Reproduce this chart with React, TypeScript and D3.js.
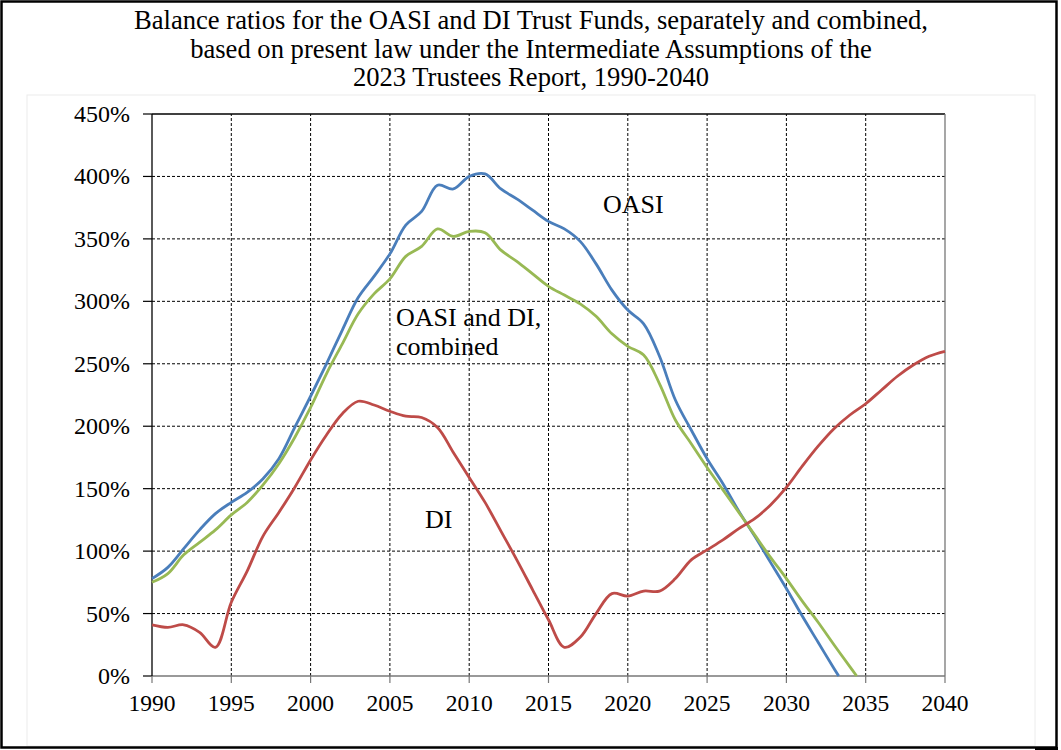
import React from 'react';
import * as d3 from 'd3';

const titleLines = [
  'Balance ratios for the OASI and DI Trust Funds, separately and combined,',
  'based on present law under the Intermediate Assumptions of the',
  '2023 Trustees Report, 1990-2040',
];

const yearTicks = [1990, 1995, 2000, 2005, 2010, 2015, 2020, 2025, 2030, 2035, 2040];
const pctTicks = [0, 50, 100, 150, 200, 250, 300, 350, 400, 450];

// OASI trust fund ratio (%), depleted during 2033
const oasiYears = [1990, 1991, 1992, 1993, 1994, 1995, 1996, 1997, 1998, 1999, 2000, 2001, 2002, 2003, 2004, 2005, 2006, 2007, 2008, 2009, 2010, 2011, 2012, 2013, 2014, 2015, 2016, 2017, 2018, 2019, 2020, 2021, 2022, 2023, 2024, 2025, 2026, 2027, 2028, 2029, 2030, 2031, 2032, 2033, 2033.3];
const oasiValues = [78, 87, 102, 117, 130, 139, 147, 158, 174, 199, 224, 250, 277, 303, 320, 338, 361, 372, 393, 390, 400, 402, 390, 382, 373, 364, 358, 348, 330, 309, 293, 282, 256, 221, 197, 174, 154, 132, 112, 91, 70, 48, 27, 6, 0];

// OASI and DI combined (%), depleted during 2034
const combYears = [1990, 1991, 1992, 1993, 1994, 1995, 1996, 1997, 1998, 1999, 2000, 2001, 2002, 2003, 2004, 2005, 2006, 2007, 2008, 2009, 2010, 2011, 2012, 2013, 2014, 2015, 2016, 2017, 2018, 2019, 2020, 2021, 2022, 2023, 2024, 2025, 2026, 2027, 2028, 2029, 2030, 2031, 2032, 2033, 2034, 2034.43];
const combValues = [75, 82, 97, 107, 117, 129, 139, 153, 170, 191, 215, 242, 266, 290, 306, 318, 336, 344, 358, 352, 356, 355, 341, 332, 322, 312, 305, 298, 288, 274, 264, 257, 234, 205, 186, 167, 149, 131, 113, 95, 78, 60, 43, 25, 7.5, 0];

// DI trust fund ratio (%)
const diYears = [1990, 1991, 1992, 1993, 1994, 1995, 1996, 1997, 1998, 1999, 2000, 2001, 2002, 2003, 2004, 2005, 2006, 2007, 2008, 2009, 2010, 2011, 2012, 2013, 2014, 2015, 2016, 2017, 2018, 2019, 2020, 2021, 2022, 2023, 2024, 2025, 2026, 2027, 2028, 2029, 2030, 2031, 2032, 2033, 2034, 2035, 2036, 2037, 2038, 2039, 2040];
const diValues = [41, 39, 41, 35, 23, 59, 84, 112, 131, 151, 173, 193, 210, 220, 217, 212, 208, 207, 199, 179, 159, 139, 116, 93, 69, 45, 23, 31, 50, 66, 64, 68, 68, 78, 93, 101, 109, 118, 126, 137, 151, 168, 184, 198, 209, 218, 229, 240, 249, 256, 260];

const seriesNames = ['OASI', 'OASI and DI, combined', 'DI'];

const W = 1061;
const H = 750;
const serif = '"Liberation Serif", "Times New Roman", serif';

export default function App() {
  const x = d3.scaleLinear().domain([1990, 2040]).range([152, 945]);
  const y = d3.scaleLinear().domain([0, 450]).range([676, 114]);

  const mk = (xs: number[], vs: number[]) => {
    const pts: [number, number][] = xs.map((yr, i) => [yr, vs[i]]);
    return d3
      .line<[number, number]>()
      .x((d) => x(d[0]))
      .y((d) => y(d[1]))
      .curve(d3.curveCatmullRom.alpha(0.5))(pts) || '';
  };

  const series = [
    { name: seriesNames[0], d: mk(oasiYears, oasiValues), color: '#4a7ebb' },
    { name: seriesNames[1], d: mk(combYears, combValues), color: '#98b954' },
    { name: seriesNames[2], d: mk(diYears, diValues), color: '#be4b48' },
  ];

  return (
    <svg width={W} height={H} style={{ position: 'absolute', left: 0, top: 0, background: '#fff' }} fontFamily={serif}>
      <rect x={0} y={0} width={W} height={H} fill="#fff" />
      <rect x={27} y={95} width={1008} height={651} fill="none" stroke="#ececec" strokeWidth={1} />

      {titleLines.map((t, i) => (
        <text key={i} x={531} y={29 + i * 28.5} textAnchor="middle" fontSize={26.6} fill="#000">
          {t}
        </text>
      ))}

      {/* gridlines */}
      {pctTicks.slice(1, -1).map((v) => (
        <line key={'h' + v} x1={x(1990)} x2={x(2040)} y1={y(v)} y2={y(v)} stroke="#000" strokeWidth={1} strokeDasharray="3,2" />
      ))}
      {yearTicks.slice(1, -1).map((v) => (
        <line key={'v' + v} x1={x(v)} x2={x(v)} y1={y(0)} y2={y(450)} stroke="#000" strokeWidth={1} strokeDasharray="3,2" />
      ))}

      {/* frame */}
      <line x1={x(1990)} x2={x(2040)} y1={y(450)} y2={y(450)} stroke="#000" strokeWidth={1.3} />
      <line x1={x(2040)} x2={x(2040)} y1={y(450)} y2={y(0)} stroke="#777" strokeWidth={1.3} />
      <line x1={x(1990)} x2={x(2040)} y1={y(0)} y2={y(0)} stroke="#777" strokeWidth={1.3} />
      <line x1={x(1990)} x2={x(1990)} y1={y(450)} y2={y(0)} stroke="#000" strokeWidth={1.3} />

      {/* y ticks */}
      {pctTicks.map((v) => (
        <g key={'yt' + v}>
          <line x1={x(1990) - 9} x2={x(1990)} y1={y(v)} y2={y(v)} stroke="#000" strokeWidth={1.2} />
          <text x={130} y={y(v) + 8} textAnchor="end" fontSize={24} fill="#000">
            {v + '%'}
          </text>
        </g>
      ))}

      {/* x ticks */}
      {yearTicks.map((v) => (
        <g key={'xt' + v}>
          <line x1={x(v)} x2={x(v)} y1={y(0)} y2={y(0) + 7} stroke="#777" strokeWidth={1.2} />
          <text x={x(v)} y={711} textAnchor="middle" fontSize={23.5} fill="#000">
            {v}
          </text>
        </g>
      ))}

      {/* series */}
      {series.map((s) => (
        <path key={s.name} d={s.d} fill="none" stroke={s.color} strokeWidth={2.8} strokeLinejoin="round" />
      ))}

      {/* labels */}
      <text x={603} y={213} fontSize={26} fill="#000">OASI</text>
      <text x={396} y={326} fontSize={26} fill="#000">OASI and DI,</text>
      <text x={396} y={355} fontSize={26} fill="#000">combined</text>
      <text x={425} y={528} fontSize={26} fill="#000">DI</text>

      {/* outer border */}
      <rect x={1.5} y={1.5} width={1055} height={746} fill="none" stroke="#000" strokeWidth={2.5} />
      <line x1={1035} x2={1058} y1={748.5} y2={748.5} stroke="#000" strokeWidth={3} />
    </svg>
  );
}
